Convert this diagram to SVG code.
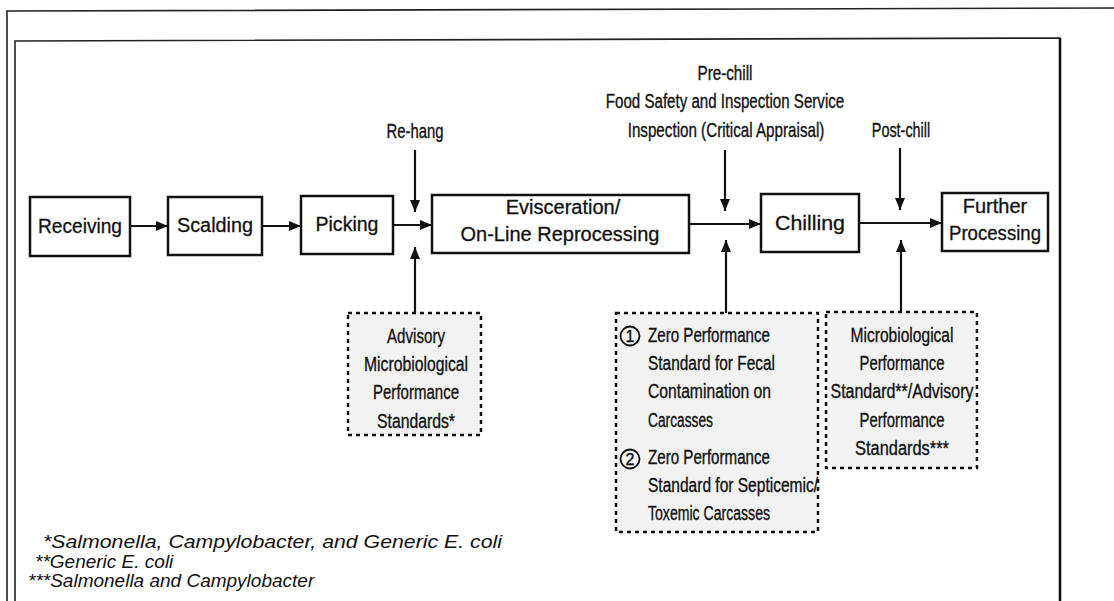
<svg xmlns="http://www.w3.org/2000/svg" width="1114" height="601" viewBox="0 0 1114 601">
<defs>
<marker id="ah" viewBox="0 0 12 10" refX="12" refY="5" markerWidth="12" markerHeight="10" markerUnits="userSpaceOnUse" orient="auto">
<path d="M0,0 L12,5 L0,10 Z" fill="#111"/>
</marker>
</defs>
<style>
.frame{fill:none;stroke:#222;stroke-width:1.6}
.box{fill:#fff;stroke:#111;stroke-width:2.5}
.dbox{fill:#f2f2f2;stroke:#111;stroke-width:2.5;stroke-dasharray:4 4}
.lbl{font-family:"Liberation Sans",Arial,sans-serif;font-size:20px;fill:#111;stroke:#111;stroke-width:0.3;text-anchor:middle}
.cnd{font-family:"Liberation Sans",Arial,sans-serif;font-size:20px;fill:#111;stroke:#111;stroke-width:0.35}
.mid{text-anchor:middle}
.fn{font-family:"Liberation Sans",Arial,sans-serif;font-size:19px;font-style:italic;fill:#111}
.con{fill:none;stroke:#111;stroke-width:2.2;marker-end:url(#ah)}
</style>
<rect width="1114" height="601" fill="#fff"/>
<g id="frames">
<path class="frame" d="M7,601 L7,11 L1114,8"/>
<path class="frame" d="M15,601 L15,41 L1060,38 L1060,601"/>
<path d="M1060,38 L1060,601" stroke="#111" stroke-width="2.6" fill="none"/>
</g>
<g id="connectors">
<path class="con" d="M130,226 L168,226"/>
<path class="con" d="M262,226 L301,226"/>
<path class="con" d="M393,225 L432,225"/>
<path class="con" d="M415,150 L415,212"/>
<path class="con" d="M415,313 L415,247"/>
<path class="con" d="M689,224 L761,224"/>
<path class="con" d="M725,150 L725,211"/>
<path class="con" d="M726,313 L726,240"/>
<path class="con" d="M859,223 L942,223"/>
<path class="con" d="M900,148 L900,210"/>
<path class="con" d="M901,312 L901,240"/>
</g>
<g id="receiving">
<rect class="box" x="30" y="197" width="100" height="59"/>
<text class="lbl" x="80" y="233" textLength="84" lengthAdjust="spacingAndGlyphs">Receiving</text>
</g>
<g id="scalding">
<rect class="box" x="168" y="197" width="94" height="58"/>
<text class="lbl" x="215" y="232" textLength="76" lengthAdjust="spacingAndGlyphs">Scalding</text>
</g>
<g id="picking">
<rect class="box" x="301" y="196" width="92" height="58"/>
<text class="lbl" x="347" y="231" textLength="63" lengthAdjust="spacingAndGlyphs">Picking</text>
</g>
<g id="evisceration">
<rect class="box" x="432" y="195" width="257" height="58"/>
<text class="lbl" x="563" y="214">Evisceration/</text>
<text class="lbl" x="560" y="241">On-Line Reprocessing</text>
</g>
<g id="chilling">
<rect class="box" x="761" y="194" width="98" height="58"/>
<text class="lbl" x="810" y="230" textLength="70" lengthAdjust="spacingAndGlyphs">Chilling</text>
</g>
<g id="further">
<rect class="box" x="942" y="193" width="106" height="58"/>
<text class="lbl" x="995" y="213">Further</text>
<text class="lbl" x="995" y="240" textLength="92" lengthAdjust="spacingAndGlyphs">Processing</text>
</g>
<g id="rehang">
<text class="cnd mid" x="415" y="138" textLength="57" lengthAdjust="spacingAndGlyphs">Re-hang</text>
</g>
<g id="prechill">
<text class="cnd mid" x="725" y="80" textLength="55" lengthAdjust="spacingAndGlyphs">Pre-chill</text>
<text class="cnd mid" transform="translate(725,108) scale(0.755,1)" x="0" y="0">Food Safety and Inspection Service</text>
<text class="cnd mid" transform="translate(726,137) scale(0.76,1)" x="0" y="0">Inspection (Critical Appraisal)</text>
</g>
<g id="postchill">
<text class="cnd mid" transform="translate(901,137) scale(0.72,1)" x="0" y="0">Post-chill</text>
</g>
<g id="advisory">
<rect class="dbox" x="348" y="313" width="133" height="122"/>
<text class="cnd mid" x="416" y="343" textLength="58" lengthAdjust="spacingAndGlyphs">Advisory</text>
<text class="cnd mid" x="416" y="371" textLength="104" lengthAdjust="spacingAndGlyphs">Microbiological</text>
<text class="cnd mid" x="416" y="399" textLength="86" lengthAdjust="spacingAndGlyphs">Performance</text>
<text class="cnd mid" x="416" y="428" textLength="78" lengthAdjust="spacingAndGlyphs">Standards*</text>
</g>
<g id="zero">
<rect class="dbox" x="616" y="313" width="202" height="219"/>
<circle cx="630" cy="336" r="9.5" fill="none" stroke="#111" stroke-width="1.8"/>
<text class="cnd mid" x="630" y="342" style="font-size:16px">1</text>
<circle cx="630" cy="459" r="9.5" fill="none" stroke="#111" stroke-width="1.8"/>
<text class="cnd mid" x="630" y="465" style="font-size:16px">2</text>
<text class="cnd" x="648" y="342" textLength="122" lengthAdjust="spacingAndGlyphs">Zero Performance</text>
<text class="cnd" x="648" y="370" textLength="127" lengthAdjust="spacingAndGlyphs">Standard for Fecal</text>
<text class="cnd" x="648" y="398" textLength="123" lengthAdjust="spacingAndGlyphs">Contamination on</text>
<text class="cnd" x="648" y="427" textLength="65" lengthAdjust="spacingAndGlyphs">Carcasses</text>
<text class="cnd" x="648" y="464" textLength="122" lengthAdjust="spacingAndGlyphs">Zero Performance</text>
<text class="cnd" x="648" y="492" textLength="170" lengthAdjust="spacingAndGlyphs">Standard for Septicemic/</text>
<text class="cnd" x="648" y="520" textLength="122" lengthAdjust="spacingAndGlyphs">Toxemic Carcasses</text>
</g>
<g id="micro">
<rect class="dbox" x="826" y="312" width="151" height="156"/>
<text class="cnd mid" x="902" y="342" textLength="103" lengthAdjust="spacingAndGlyphs">Microbiological</text>
<text class="cnd mid" x="902" y="370" textLength="85" lengthAdjust="spacingAndGlyphs">Performance</text>
<text class="cnd mid" x="902" y="398" textLength="143" lengthAdjust="spacingAndGlyphs">Standard**/Advisory</text>
<text class="cnd mid" x="902" y="427" textLength="85" lengthAdjust="spacingAndGlyphs">Performance</text>
<text class="cnd mid" x="902" y="455" textLength="94" lengthAdjust="spacingAndGlyphs">Standards***</text>
</g>
<g id="footnotes">
<text class="fn" x="43" y="548" textLength="459" lengthAdjust="spacingAndGlyphs">*Salmonella, Campylobacter, and Generic E. coli</text>
<text class="fn" x="35" y="568">**Generic E. coli</text>
<text class="fn" x="28" y="587">***Salmonella and Campylobacter</text>
</g>
</svg>
